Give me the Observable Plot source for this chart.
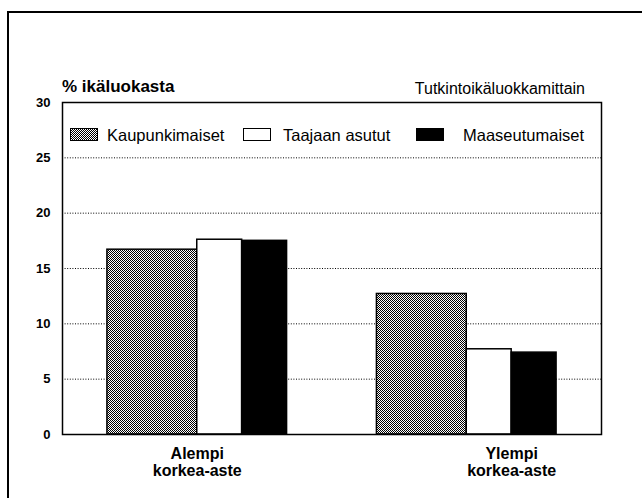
<!DOCTYPE html>
<html>
<head>
<meta charset="utf-8">
<script src="https://cdn.jsdelivr.net/npm/d3@7"></script>
<script src="https://cdn.jsdelivr.net/npm/@observablehq/plot@0.6"></script>
<style>
  html, body { margin: 0; padding: 0; background: #fff; }
  #wrap { position: relative; width: 642px; height: 498px; overflow: hidden;
          font-family: "Liberation Sans", Arial, Helvetica, sans-serif; color: #000; }
  #wrap svg { position: absolute; left: 0; top: 0; }
  .ov { position: absolute; white-space: nowrap; line-height: 1; }
  .sw { position: absolute; box-sizing: border-box; border: 1.5px solid #000; }
</style>
</head>
<body>
<div id="wrap"></div>
<script>
// ---- data ----
const groups = ["Alempi korkea-aste", "Ylempi korkea-aste"];
const series = ["Kaupunkimaiset", "Taajaan asutut", "Maaseutumaiset"];
const alempiValues = [16.7, 17.6, 17.5];
const ylempiValues = [12.7, 7.7, 7.4];
const yTicks = [0, 5, 10, 15, 20, 25, 30];
const yLabel = "% ikäluokasta";
const subtitle = "Tutkintoikäluokkamittain";

// ---- layout (slot units on a linear x scale) ----
const groupStart = [1, 7];
const labelPos = [3, 10];
const seriesSpan = [[0, 2], [2, 3], [3, 4]];
const fills = ["url(#hatch)", "#ffffff", "#000000"];

const table = [];
[alempiValues, ylempiValues].forEach((vals, gi) => {
  vals.forEach((v, si) => {
    table.push({group: groups[gi], series: series[si], value: v,
      x1: groupStart[gi] + seriesSpan[si][0], x2: groupStart[gi] + seriesSpan[si][1]});
  });
});
const labels = groups.map((g, i) => ({text: g.replace(" ", "\n"), x: labelPos[i]}));

const W = 642, H = 498;
const chart = Plot.plot({
  width: W, height: H,
  marginLeft: 62, marginRight: 41, marginTop: 102, marginBottom: 64,
  style: {fontFamily: '"Liberation Sans", Arial, sans-serif', fontSize: "13px", fontWeight: "bold", background: "transparent", color: "#000"},
  x: {type: "linear", domain: [0, 12], axis: null},
  y: {domain: [0, 30], ticks: yTicks, tickSize: 0, tickPadding: 12, label: null},
  color: {type: "ordinal", domain: series, range: fills},
  marks: [
    Plot.ruleY(yTicks.filter(t => t > 0 && t < 30), {stroke: "#000", strokeWidth: 1, strokeDasharray: "1,1.6"}),
    Plot.rect(table, {x1: "x1", x2: "x2", y1: 0, y2: "value", fill: "series", stroke: "#000", strokeWidth: 1.5}),
    Plot.frame({stroke: "#000", strokeWidth: 1.5}),
    Plot.text(labels, {x: "x", text: "text", frameAnchor: "bottom", lineAnchor: "top", dy: 12,
      fontSize: 16, fontWeight: "bold", lineHeight: 1.08, fill: "#000"})
  ]
});

const defs = d3.select(chart).insert("defs", ":first-child");
const pat = defs.append("pattern").attr("id", "hatch").attr("patternUnits", "userSpaceOnUse")
  .attr("width", 2).attr("height", 2);
pat.append("rect").attr("width", 2).attr("height", 2).attr("fill", "#fff");
pat.append("rect").attr("x", 0).attr("y", 0).attr("width", 1).attr("height", 1).attr("fill", "#000");
pat.append("rect").attr("x", 1).attr("y", 1).attr("width", 1).attr("height", 1).attr("fill", "#000");

const wrap = document.getElementById("wrap");
wrap.appendChild(chart);

function ov(txt, css) {
  const d = document.createElement("div");
  d.className = "ov";
  d.textContent = txt;
  Object.assign(d.style, css);
  wrap.appendChild(d);
  return d;
}
function sw(css) {
  const d = document.createElement("div");
  d.className = "sw";
  Object.assign(d.style, css);
  wrap.appendChild(d);
}
// outer border lines
const borderTop = document.createElement("div");
Object.assign(borderTop.style, {position: "absolute", left: "8px", top: "11px", width: "634px", height: "2px", background: "#000"});
wrap.appendChild(borderTop);
const borderLeft = document.createElement("div");
Object.assign(borderLeft.style, {position: "absolute", left: "7px", top: "11px", width: "2px", height: "487px", background: "#000"});
wrap.appendChild(borderLeft);

// titles
ov(yLabel, {left: "62px", top: "78px", fontSize: "17px", fontWeight: "bold"});
ov(subtitle, {right: "57px", top: "81px", fontSize: "16px"});

// legend
const legendSw = [
  {left: "70px", background: "repeating-conic-gradient(#000 0 25%, #fff 0 50%) 0 0 / 2px 2px"},
  {left: "243px", background: "#fff"},
  {left: "416px", background: "#000"}
];
const legendText = [107, 283, 463];
series.forEach((s, i) => {
  sw(Object.assign({top: "128px", width: "28px", height: "13px"}, legendSw[i]));
  ov(s, {left: legendText[i] + "px", top: "127px", fontSize: "16.5px"});
});
</script>
</body>
</html>
